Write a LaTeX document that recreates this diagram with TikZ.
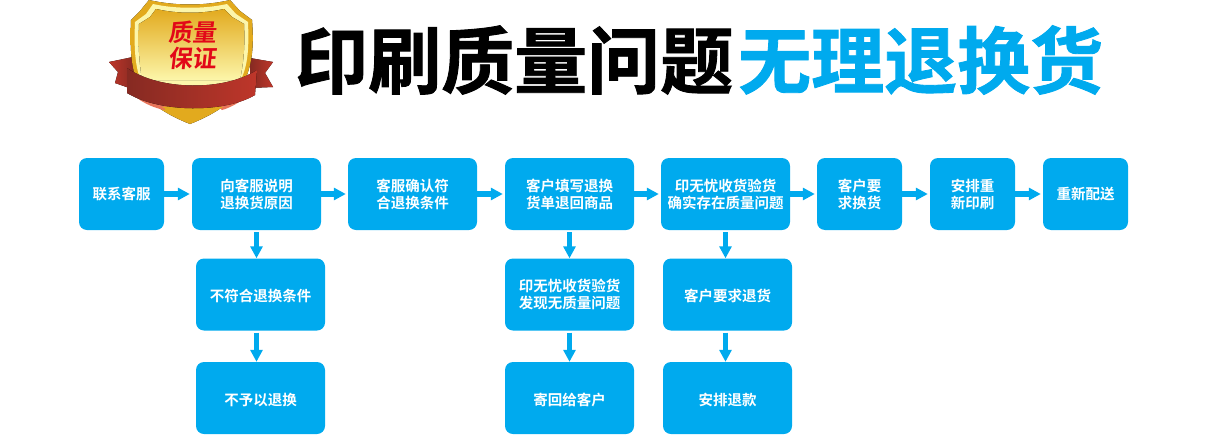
\documentclass[tikz,border=0pt]{standalone}
\usepackage{fontspec}
\setmainfont{Noto Sans CJK SC}[UprightFont=* Bold,BoldFont=* Bold]
\newfontfamily\badgefont{Noto Sans CJK SC}[UprightFont=* Bold,FakeSlant=0.12]
\newfontfamily\titlefont{Noto Sans CJK SC}[UprightFont=* Bold,FakeBold=1.2]
\usetikzlibrary{arrows.meta,calc}
\definecolor{cbBlue}{RGB}{0,170,238}
\definecolor{cbRed}{RGB}{226,8,24}
\definecolor{cbGold}{RGB}{226,170,30}
\definecolor{cbPale}{RGB}{252,246,170}
\definecolor{cbRibbon}{RGB}{226,82,48}
\definecolor{cbRibbonMid}{RGB}{190,54,42}
\definecolor{cbRibbonDark}{RGB}{134,42,34}
\tikzset{
    x=1pt,y=-1pt,
    >={Triangle[length=12pt,width=12pt]},
    stepbox/.style={rectangle,fill=cbBlue,rounded corners=8pt,text=white,align=center,minimum height=72pt,inner sep=0pt,font=\fontsize{14.5}{17}\selectfont},
    widebox/.style={stepbox,minimum width=129pt},
    smallbox/.style={stepbox,minimum width=85pt},
    lowbox/.style={widebox,execute at begin node=\rule{0pt}{16pt}},
    flow/.style={cbBlue,line width=5.5pt,shorten >=0pt,shorten <=2pt},
    title/.style={inner sep=0pt,font=\titlefont\fontsize{73}{80}\selectfont},
    badge/.style={inner sep=0pt,text=cbRed,font=\badgefont\fontsize{24}{26}\selectfont},
}
\begin{document}
\begin{tikzpicture}
                \useasboundingbox (0,0) rectangle (1210,434);

                % badge
                \fill[left color=cbRibbonMid,right color=cbRibbonDark] (109,62) -- (133,57) -- (135,90) -- (115,83) -- (118,72) -- cycle;
                \fill[left color=cbRibbonDark,right color=cbRibbonMid] (250,58) -- (273,62) -- (265,73) -- (273,87) -- (250,88) -- cycle;
                \fill[left color=cbGold,middle color=cbPale,right color=cbGold] (149,0) .. controls (175,6) and (205,6) .. (230,0) -- (240,11) -- (252,20) .. controls (254,45) and (252,60) .. (248,72) .. controls (240,100) and (215,114) .. (190,124) .. controls (165,114) and (140,100) .. (134,72) .. controls (131,60) and (130,45) .. (131,20) -- (140,11) -- cycle;
                \fill[cbPale] (153,4) .. controls (175,9) and (205,9) .. (227,4) -- (236,14) -- (248,22) .. controls (249,45) and (248,60) .. (244,72) .. controls (236,96) and (212,110) .. (190,119) .. controls (168,110) and (144,96) .. (138,72) .. controls (135,60) and (134,45) .. (135,22) -- (146,14) -- cycle;
                \fill[top color=cbGold,bottom color=cbPale] (156,9) .. controls (178,14) and (202,14) .. (224,9) -- (232,17) -- (244,24) .. controls (245,45) and (244,60) .. (240,80) -- (142,80) .. controls (139,60) and (138,45) .. (139,24) -- (150,17) -- cycle;
                \fill[cbRibbon!80!white] (137,98) .. controls (145,104) and (155,108) .. (164,110) -- (170,104) -- cycle;
                \fill[cbRibbon!80!white] (248,96) .. controls (240,102) and (230,108) .. (222,110) -- (215,104) -- cycle;
                \fill[cbGold] (162,107) -- (192,123) -- (223,107) -- (200,103) -- cycle;
                \fill[left color=cbRibbonDark,middle color=cbRibbon,right color=cbRibbonMid] (127,68) .. controls (160,91) and (225,91) .. (257,70) -- (255,95) .. controls (225,113) and (160,113) .. (127,93) -- cycle;
                \node[badge] (quality) at (192,32) {质量};
                \node[badge] (warranty) at (192,58) {保证};

                % title
                \node[title,anchor=west] (black) at (295,60) {印刷质量问题};
                \node[title,anchor=west,text=cbBlue] (blue) at (738,60) {无理退换货};

                % top row
                \node[smallbox] (contact) at (121.5,194) {联系客服};
                \node[widebox] (explain) at (256.5,194) {向客服说明\\退换货原因} edge[<-,flow] (contact);
                \node[widebox] (confirm) at (412.5,194) {客服确认符\\合退换条件} edge[<-,flow] (explain);
                \node[widebox] (fill) at (569.5,194) {客户填写退换\\货单退回商品} edge[<-,flow] (confirm);
                \node[widebox] (check) at (725.5,194) {印无忧收货验货\\确实存在质量问题} edge[<-,flow] (fill);
                \node[smallbox] (exchange) at (859.5,194) {客户要\\求换货} edge[<-,flow] (check);
                \node[smallbox] (reprint) at (972.5,194) {安排重\\新印刷} edge[<-,flow] (exchange);
                \node[smallbox] (resend) at (1085.5,194) {重新配送} edge[<-,flow] (reprint);

                % lower rows
                \node[lowbox] (unfit) at (260.5,294.5) {不符合退换条件};
                \node[lowbox] (refuse) at (260.5,398) {不予以退换};
                \node[lowbox] (nofault) at (569.5,294.5) {印无忧收货验货\\发现无质量问题};
                \node[lowbox] (sendback) at (569.5,398) {寄回给客户};
                \node[lowbox] (ret) at (727.5,294.5) {客户要求退货};
                \node[lowbox] (refund) at (727.5,398) {安排退款};

                \draw[->,flow] (explain.south) -- (explain.south |- unfit.north);
                \draw[->,flow] (explain.south |- unfit.south) -- (explain.south |- refuse.north);
                \draw[->,flow] (fill.south) -- (nofault.north);
                \draw[->,flow] (nofault.south) -- (sendback.north);
                \draw[->,flow] (check.south) -- (check.south |- ret.north);
                \draw[->,flow] (check.south |- ret.south) -- (check.south |- refund.north);
        \end{tikzpicture}
\end{document}
